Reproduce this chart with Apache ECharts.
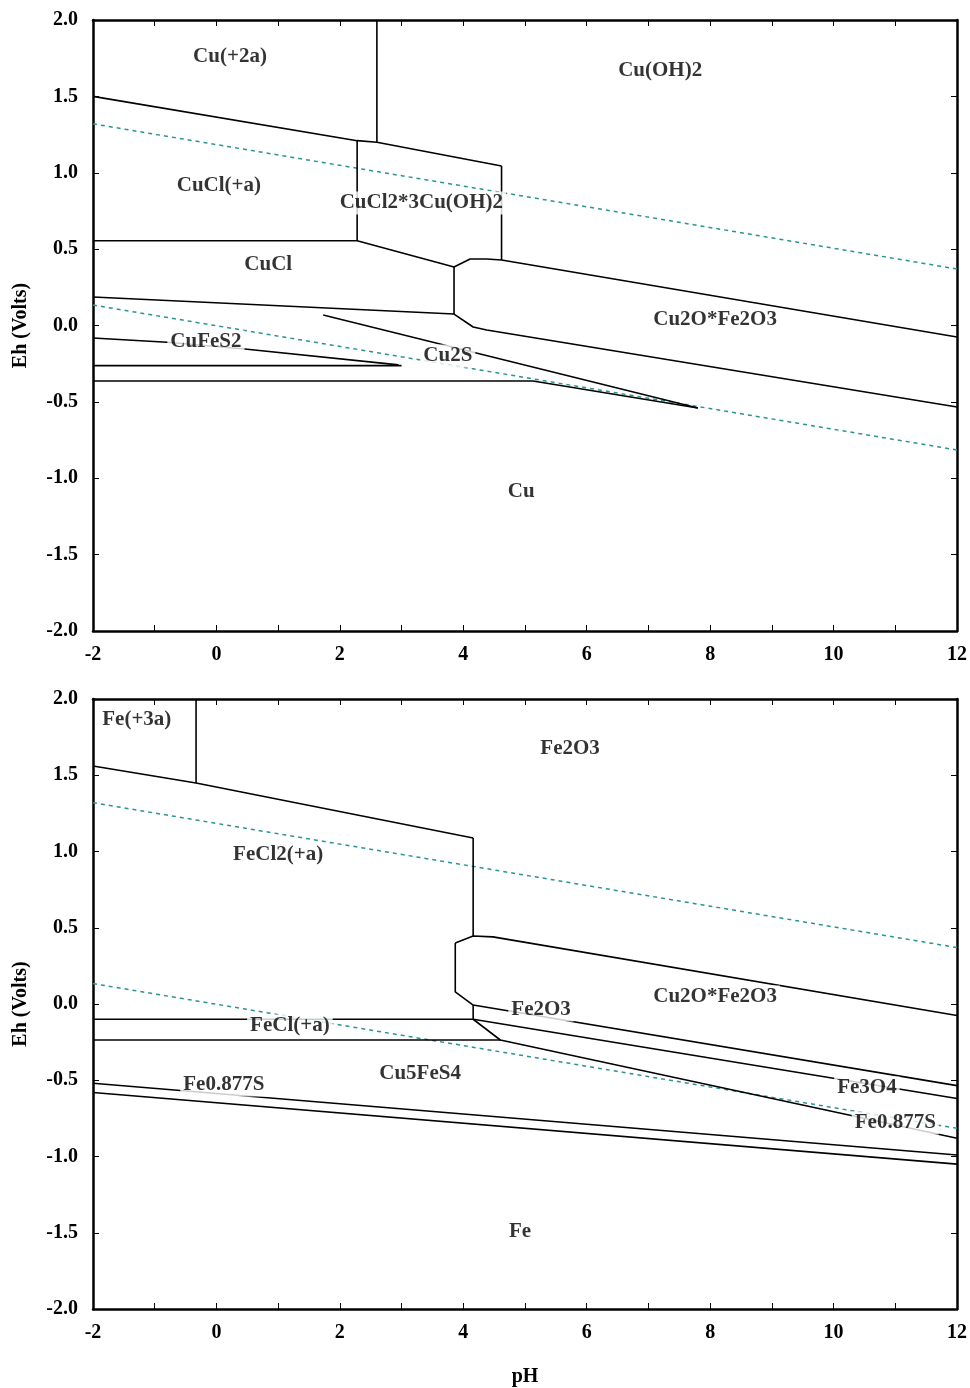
<!DOCTYPE html>
<html>
<head>
<meta charset="utf-8">
<title>Eh-pH diagrams</title>
<script src="https://cdn.jsdelivr.net/npm/echarts@6/dist/echarts.min.js"></script>
<style>
html, body { margin: 0; padding: 0; background: #fff; }
#chart { width: 970px; height: 1388px; }
</style>
</head>
<body>
<div id="chart"></div>
<script>
// boundaries are [pH, Eh] points

// water stability limits (same in both diagrams)
var waterUpper = [[-2, 1.32], [12, 0.37]];
var waterLower = [[-2, 0.134], [12, -0.815]];

// Cu diagram
var cuTop = [[-2, 1.50], [2.28, 1.21], [2.60, 1.20], [4.62, 1.044]];
var cuVert1 = [[2.60, 2.0], [2.60, 1.20]];
var cuVert2 = [[2.28, 1.21], [2.28, 0.555]];
var cuVert3 = [[4.62, 1.044], [4.62, 0.429]];
var cuVert4 = [[3.85, 0.383], [3.85, 0.075]];
var cuMid = [[-2, 0.555], [2.28, 0.555], [3.85, 0.383], [4.11, 0.435], [4.38, 0.435], [4.62, 0.429], [12, -0.075]];
var cuLow = [[-2, 0.187], [3.85, 0.075], [4.16, -0.01], [4.38, -0.03], [12, -0.534]];
var cu2sTop = [[1.73, 0.069], [7.80, -0.54]];
var cu2sBottom = [[-2, -0.363], [5.13, -0.363], [7.80, -0.54]];
var cufes2Top = [[-2, -0.082], [-0.8, -0.11], [0.46, -0.154], [2.95, -0.258]];
var cufes2Bottom = [[-2, -0.263], [3.0, -0.263]];

var cuLabels = [
  [0.22, 1.758, 'Cu(+2a)'],
  [7.19, 1.666, 'Cu(OH)2'],
  [0.04, 0.913, 'CuCl(+a)'],
  [3.32, 0.802, 'CuCl2*3Cu(OH)2'],
  [0.84, 0.396, 'CuCl'],
  [8.08, 0.036, 'Cu2O*Fe2O3'],
  [-0.17, -0.108, 'CuFeS2'],
  [3.75, -0.20, 'Cu2S'],
  [4.94, -1.09, 'Cu']
];

// Fe diagram
var feTop = [[-2, 1.561], [-0.33, 1.449], [4.16, 1.089]];
var feVert1 = [[-0.33, 2.0], [-0.33, 1.449]];
var feVert2 = [[4.16, 1.089], [4.16, 0.446]];
var feVert3 = [[4.16, -0.007], [4.16, -0.10]];
var feOxTop = [[3.87, 0.40], [4.16, 0.446], [4.48, 0.44], [12, -0.075]];
var feOxLeft = [[3.87, 0.40], [3.87, 0.079], [4.16, -0.007]];
var feFe2o3 = [[4.16, -0.007], [12, -0.535]];
var feFe3o4 = [[4.16, -0.10], [12, -0.62]];
var feSulf = [[4.16, -0.10], [4.6, -0.236], [12, -0.88]];
var feClTop = [[-2, -0.10], [4.16, -0.10]];
var feClBottom = [[-2, -0.236], [4.6, -0.236]];
var feSTop = [[-2, -0.52], [12, -0.99]];
var feSBottom = [[-2, -0.58], [12, -1.05]];

var feLabels = [
  [-1.29, 1.862, 'Fe(+3a)'],
  [5.73, 1.672, 'Fe2O3'],
  [1.0, 0.977, 'FeCl2(+a)'],
  [8.08, 0.046, 'Cu2O*Fe2O3'],
  [5.26, -0.039, 'Fe2O3'],
  [1.19, -0.144, 'FeCl(+a)'],
  [3.30, -0.459, 'Cu5FeS4'],
  [0.12, -0.531, 'Fe0.877S'],
  [10.54, -0.551, 'Fe3O4'],
  [11.0, -0.78, 'Fe0.877S'],
  [4.92, -1.495, 'Fe']
];

var font = 'Liberation Serif';

var cuLines = [cuTop, cuVert1, cuVert2, cuVert3, cuVert4, cuMid, cuLow, cu2sTop, cu2sBottom, cufes2Top, cufes2Bottom];
var feLines = [feTop, feVert1, feVert2, feVert3, feOxTop, feOxLeft, feFe2o3, feFe3o4, feSulf, feClTop, feClBottom, feSTop, feSBottom];

function boxLine() {
  return { show: true, onZero: false, lineStyle: { color: '#000', width: 2.5 } };
}
function inTick() {
  return { show: true, inside: true, length: 6, lineStyle: { color: '#000', width: 1 } };
}
var tickFont = { color: '#000', fontFamily: font, fontWeight: 'bold', fontSize: 20 };

var xAxes = [], yAxes = [], series = [];
[0, 1].forEach(function (g) {
  xAxes.push({
    gridIndex: g, type: 'value', min: -2, max: 12, interval: 1, position: 'bottom',
    axisLine: boxLine(), axisTick: inTick(), splitLine: { show: false },
    axisLabel: Object.assign({ margin: 14, formatter: function (v) { return v % 2 === 0 ? String(v) : ''; } }, tickFont),
    name: g === 1 ? 'pH' : '', nameLocation: 'middle', nameGap: 58,
    nameTextStyle: tickFont
  });
  xAxes.push({
    gridIndex: g, type: 'value', min: -2, max: 12, interval: 1, position: 'top',
    axisLine: boxLine(), axisTick: inTick(), splitLine: { show: false }, axisLabel: { show: false }
  });
  yAxes.push({
    gridIndex: g, type: 'value', min: -2, max: 2, interval: 0.5, position: 'left',
    axisLine: boxLine(), axisTick: inTick(), splitLine: { show: false },
    axisLabel: Object.assign({ margin: 15, formatter: function (v) { return v.toFixed(1); } }, tickFont),
    name: 'Eh (Volts)', nameLocation: 'middle', nameGap: 62, nameRotate: 90,
    nameTextStyle: tickFont
  });
  yAxes.push({
    gridIndex: g, type: 'value', min: -2, max: 2, interval: 0.5, position: 'right',
    axisLine: boxLine(), axisTick: inTick(), splitLine: { show: false }, axisLabel: { show: false }
  });

  var lines = g === 0 ? cuLines : feLines;
  lines.forEach(function (pts) {
    series.push({
      type: 'line', xAxisIndex: 2 * g, yAxisIndex: 2 * g, data: pts, symbol: 'none',
      lineStyle: { color: '#000', width: 1.6 }, silent: true, z: 2
    });
  });
  [waterUpper, waterLower].forEach(function (pts) {
    series.push({
      type: 'line', xAxisIndex: 2 * g, yAxisIndex: 2 * g, data: pts, symbol: 'none',
      lineStyle: { color: '#2a9494', width: 1.5, type: [4, 4] }, silent: true, z: 1
    });
  });
  series.push({
    type: 'scatter', xAxisIndex: 2 * g, yAxisIndex: 2 * g,
    data: g === 0 ? cuLabels : feLabels,
    symbolSize: 1, itemStyle: { color: 'rgba(0,0,0,0)' }, silent: true, z: 10,
    label: {
      show: true, position: 'inside',
      formatter: function (p) { return p.data[2]; },
      color: '#000', fontFamily: font, fontWeight: 'bold', fontSize: 21,
      backgroundColor: '#fff', padding: [1, 3]
    }
  });
});

var chart = echarts.init(document.getElementById('chart'));
chart.setOption({
  animation: false,
  backgroundColor: '#fff',
  grid: [
    { left: 93, right: 13, top: 20, height: 611 },
    { left: 93, right: 13, top: 699, height: 610 }
  ],
  xAxis: xAxes,
  yAxis: yAxes,
  series: series
});
</script>
</body>
</html>
